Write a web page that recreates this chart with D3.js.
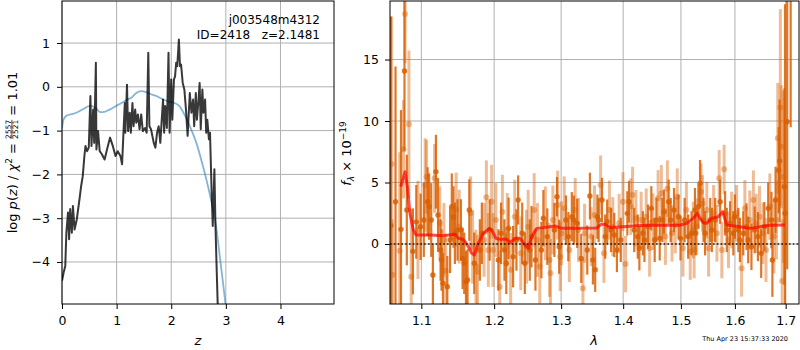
<!DOCTYPE html>
<html>
<head>
<meta charset="utf-8">
<script src="https://cdn.jsdelivr.net/npm/d3@7"></script>
<style>
body { margin: 0; background: #fff; }
text { font-family: "DejaVu Sans", sans-serif; white-space: pre; }
</style>
</head>
<body>
<svg id="fig" width="800" height="350"></svg>
<script>
// ---- left panel: log p(z) (black) and prior-ish curve (blue)
var pzZ = [0,0.03,0.06,0.08,0.11,0.13,0.15,0.18,0.20,0.23,0.27,0.32,0.35,0.38,0.41,0.43,0.46,0.49,0.52,0.54,
  0.57,0.59,0.62,0.63,0.66,0.69,0.73,0.78,0.84,0.88,0.93,0.98,1.02,1.07,1.10,1.12,1.15,1.16,1.19,1.21,
  1.24,1.26,1.29,1.31,1.34,1.36,1.39,1.42,1.45,1.48,1.52,1.55,1.58,1.60,1.63,1.68,1.71,1.74,1.77,1.80,
  1.83,1.85,1.87,1.89,1.92,1.95,1.97,2.00,2.02,2.05,2.07,2.09,2.11,2.14,2.16,2.18,2.21,2.24,2.27,2.30,
  2.34,2.37,2.40,2.42,2.45,2.47,2.50,2.52,2.54,2.57,2.59,2.62,2.64,2.66,2.69,2.71,2.74,2.76,2.79,2.81,
  2.83,2.85,2.87];
var pzLog = [-4.43,-4.24,-4.09,-3.33,-2.87,-3.48,-2.79,-3.33,-2.72,-3.26,-3.03,-2.57,-2.27,-2.04,-1.58,-1.35,-1.47,-1.39,-0.21,-1.35,
  -0.52,-1.28,0.55,-1.43,-1.01,-1.47,-1.54,-1.66,-1.35,-1.16,-1.35,-1.58,-1.47,-1.58,-1.77,-1.20,-0.37,-1.05,0.05,-1.01,
  -0.59,-1.05,-0.37,-0.90,-0.52,-0.82,-0.63,-0.97,-0.63,-1.01,-0.94,-1.05,0.78,-0.90,-0.97,-1.28,-1.39,-1.05,-0.90,-1.28,
  -0.67,-0.29,-1.05,-0.44,-0.94,0.78,-1.05,0.17,-0.75,0.17,0.24,0.55,0.47,1.08,0.47,0.51,0.09,-0.06,-0.52,-1.12,
  -0.14,-0.59,-0.29,-0.90,-0.14,-0.75,-0.29,0.09,-0.97,-0.06,-0.59,-0.29,-1.05,-0.75,-1.20,-1.05,-2.42,-3.18,-1.88,-3.18,
  -4.09,-4.93,-5.6];
var priorZ = [0,0.02,0.05,0.1,0.2,0.3,0.4,0.5,0.55,0.63,0.7,0.78,0.87,1.0,1.09,1.18,1.27,1.36,1.45,1.54,
  1.63,1.73,1.85,1.94,2.06,2.15,2.24,2.34,2.46,2.58,2.70,2.82,2.91,2.99,3.02];
var priorLog = [-0.95,-0.78,-0.7,-0.65,-0.62,-0.57,-0.5,-0.44,-0.44,-0.5,-0.58,-0.57,-0.52,-0.43,-0.37,-0.3,-0.25,-0.14,-0.1,-0.12,
  -0.17,-0.21,-0.29,-0.33,-0.37,-0.44,-0.63,-0.9,-1.28,-1.81,-2.42,-3.18,-4.09,-4.93,-5.3];
var zTicks = [0, 1, 2, 3, 4];
var logTicks = [-4, -3, -2, -1, 0, 1];

// ---- right panel: spectrum points [wave, flux, err]
var darkSpec = [[1.0607,1.5,17],[1.0666,3.44,11],[1.0736,1.19,9.7],[1.0781,14.07,6.5],[1.0811,2.76,4.5],[1.0890,-0.6,3.5],
  [1.0934,1.8,3],[1.0990,1.4,2.7],[1.1033,1.95,3],[1.1083,3.44,2.8],[1.1103,3.04,2.7],[1.1131,1.95,3],[1.1153,-2.52,2.5],
  [1.1194,5.88,3],[1.1222,2.36,3],[1.1256,-0.49,2.5],[1.1269,-1.3,2.5],[1.1288,-3.2,2.5],[1.1347,-3.47,2.5],[1.1385,0.33,2.7],
  [1.1408,3.04,2.7],[1.1431,2.2,2.5],[1.1450,0.87,2.5],[1.1486,1.14,2.5],[1.1533,1.14,2.5],[1.1556,-1.17,2.5],[1.1579,-1.57,2.5],
  [1.1603,-3.06,2.5],[1.1625,-2.93,2.5],[1.1649,2.76,2.5],[1.1718,-1.57,2.5],[1.1797,-0.49,2.5],[1.1825,0.87,2.5],[1.1936,1.14,2.5],
  [1.2060,-1.3,2.5],[1.2100,0.87,2.5],[1.2149,-0.49,2.5],[1.2175,-1.57,2.5],[1.2209,1.27,2.5],[1.2275,-1.03,2.5],[1.2324,0.33,2.5],
  [1.2349,3.58,2],[1.2409,0.87,2.5],[1.2448,-1.57,2.5],[1.2522,-0.49,2.5],[1.2548,0.6,2.5],[1.2607,-1.3,2.5],[1.2697,-0.49,2.3],
  [1.2727,2.09,2.3],[1.2787,0.6,2.3],[1.2896,1.14,2.2],[1.2936,3.85,1.6],[1.2970,-0.22,2.2],[1.3075,1.95,2],[1.3112,0.6,2],
  [1.3167,2.22,2],[1.3199,1.95,2],[1.3252,1.68,2],[1.3316,-1.17,2],[1.3412,-0.49,2],[1.3455,3.9,1.9],[1.3503,-1.3,2],
  [1.3540,-2.1,1.8],[1.3575,2.22,1.8],[1.3596,1.95,1.8],[1.3650,3.58,1.8],[1.3703,0.6,1.8],[1.3735,1.82,1.8],[1.3800,1.14,1.8],
  [1.3852,0.73,1.8],[1.3896,-0.49,1.8],[1.3960,0.33,1.8],[1.4070,2.49,1.8],[1.4098,3.44,1.7],[1.4186,1.14,1.8],[1.4246,0.6,1.8],
  [1.4274,-0.35,1.8],[1.4333,0.87,1.8],[1.4361,0.33,1.8],[1.4421,1.41,1.8],[1.4479,2.9,1.8],[1.4537,0.33,1.8],[1.4567,1.95,1.8],
  [1.4625,0.46,1.8],[1.4672,1.95,1.8],[1.4702,2.63,1.8],[1.4782,3.44,1.8],[1.4818,1.95,1.8],[1.4877,2.76,1.8],[1.4958,2.22,1.8],
  [1.4993,0.46,1.8],[1.5067,1.95,1.8],[1.5131,0.6,1.8],[1.5192,0.87,1.8],[1.5254,2.76,1.8],[1.5267,0.87,1.8],[1.5317,3.04,1.8],
  [1.5347,4.93,1.9],[1.5410,1.95,1.8],[1.5440,0.87,1.8],[1.5534,1.95,1.8],[1.5565,1.14,1.8],[1.5627,1.95,1.8],[1.5720,3.44,1.8],
  [1.5813,2.49,1.8],[1.5845,1.14,1.8],[1.5907,1.68,1.8],[1.5970,0.87,1.8],[1.6000,2.22,1.8],[1.6065,1.14,1.8],[1.6095,0.33,1.8],
  [1.6160,0.87,1.8],[1.6223,1.41,1.9],[1.6256,0.33,1.9],[1.6319,-0.22,1.9],[1.6382,1.14,1.9],[1.6446,0.6,2],[1.6510,-0.76,2],
  [1.6573,1.41,2],[1.6649,2.9,2.1],[1.6714,1.95,2.3],[1.6733,-1.3,3],[1.6796,3.58,2.7],[1.6859,6.0,3.5],[1.6878,6.75,5],
  [1.6974,4.66,8],[1.6987,2.5,17],[1.7031,9.95,12],[1.7102,22,12.5]];
var lightSpec = [[1.0617,6.5,12],[1.0626,-2.5,4.5],[1.0719,-0.54,8],[1.0768,7.7,4],[1.0789,18.7,4],[1.0838,9.73,6],[1.0868,-2.66,5.5],
  [1.0956,1.14,4],[1.1051,4.8,3.8],[1.1069,5.47,3],[1.1176,5.34,2.8],[1.1246,1.68,3],[1.1301,0.33,3],[1.1325,-2.17,3],
  [1.1468,2.8,3],[1.1510,1.41,3],[1.1667,2.49,3],[1.1695,-0.22,3],[1.1742,-1.84,3],[1.1764,-2.25,3],[1.1857,0.33,3],
  [1.1889,3.8,3],[1.1917,-0.49,3],[1.1964,3.44,3],[1.1982,-0.49,3],[1.2025,1.95,3],[1.2081,-3.5,3],[1.2119,2.63,3],
  [1.2190,1.14,3],[1.2239,-2.1,3],[1.2299,2.22,3],[1.2388,-0.76,3],[1.2473,-0.22,3],[1.2498,1.41,3],[1.2588,2.76,3],
  [1.2637,0.33,3],[1.2672,-1.84,3],[1.2757,1.68,3],[1.2821,-1.3,3],[1.2836,-2.38,2.8],[1.2872,1.95,2.8],[1.2946,3.17,2.8],
  [1.2985,-1.03,2.8],[1.3006,0.87,2.6],[1.3048,2.9,2.6],[1.3128,-0.49,2.6],[1.3220,2.76,2.6],[1.3272,1.14,2.6],[1.3343,-3.6,2.4],
  [1.3369,0.87,2.4],[1.3476,0.6,2.4],[1.3529,2.36,2.4],[1.3628,4.8,2.4],[1.3682,-0.76,2.4],[1.3772,2.76,2.4],[1.3827,1.41,2.4],
  [1.3933,1.68,2.4],[1.3997,3.44,2.4],[1.4040,-1.63,2.3],[1.4128,3.04,2.3],[1.4158,3.98,2.3],[1.4216,2.09,2.3],[1.4304,1.95,2.3],
  [1.4391,2.22,2.3],[1.4449,-0.35,2.3],[1.4509,1.82,2.3],[1.4597,3.71,2.3],[1.4654,4.12,2.3],[1.4725,0.6,2.3],[1.4760,4.5,2.3],
  [1.4842,0.87,2.3],[1.4900,1.54,2.3],[1.4935,3.85,2.3],[1.5037,-0.35,2.3],[1.5099,2.76,2.3],[1.5168,-0.62,2.3],[1.5224,1.14,2.3],
  [1.5239,-0.49,2.3],[1.5285,1.41,2.3],[1.5366,4.25,2.3],[1.5392,3.3,2.3],[1.5472,2.76,2.3],[1.5504,-0.35,2.3],[1.5597,2.49,2.3],
  [1.5659,0.87,2.3],[1.5702,5.34,2.3],[1.5752,-0.49,2.3],[1.5795,6.07,2],[1.5877,0.33,2.3],[1.5938,1.95,2.3],[1.6032,2.49,2.3],
  [1.6128,-1.98,2.3],[1.6191,2.9,2.3],[1.6286,1.95,2.4],[1.6357,3.58,2.4],[1.6414,1.68,2.4],[1.6477,2.22,2.5],[1.6542,0.87,2.5],
  [1.6605,-0.49,2.6],[1.6682,3.04,2.7],[1.6764,0.6,3],[1.6815,1.95,3.2],[1.6840,8.6,4.5],[1.6892,11.1,8],[1.6911,7.9,5],
  [1.6930,-3,5],[1.6955,5.47,7]];
// model (red)
var modelWave = [1.0733,1.0788,1.0818,1.0852,1.0895,1.0931,1.1115,1.1293,1.1452,1.1497,1.1558,1.1590,1.1635,1.1683,1.1719,
  1.1775,1.1846,1.1931,1.1965,1.2027,1.2085,1.2182,1.2230,1.2303,1.2377,1.2451,1.2500,1.2551,1.2626,1.2726,1.2828,1.2905,
  1.3009,1.3244,1.3564,1.3645,1.3699,1.3781,1.4002,1.4228,1.4456,1.4687,1.4983,1.5104,1.5223,1.5296,1.5346,1.5406,1.5469,
  1.5562,1.5685,1.5768,1.5843,1.6097,1.6290,1.6485,1.6684,1.6985];
var modelFlux = [4.66,5.88,4.66,2.49,1.14,0.73,0.73,0.68,0.79,0.46,0.38,0.19,-0.22,-0.76,-0.89,
  0.05,0.87,1.27,1.14,0.46,0.38,0.38,0.11,0.46,0.46,-0.08,-0.35,0.6,1.27,1.33,1.41,1.46,
  1.27,1.27,1.3,1.63,1.6,1.35,1.41,1.49,1.52,1.52,1.52,1.68,2.09,2.49,2.09,1.73,1.68,
  2.09,2.22,2.63,1.54,1.41,1.27,1.41,1.52,1.54];
var waveTicks = [1.1, 1.2, 1.3, 1.4, 1.5, 1.6, 1.7];
var fluxTicks = [0, 5, 10, 15];

var svg = d3.select("#fig");
var orange = "#d95f02";

// scales
var xL = d3.scaleLinear().domain([0, 4.98]).range([62, 334]);
var yL = d3.scaleLinear().domain([-4.96, 1.96]).range([304, 1]);
var xR = d3.scaleLog().domain([1.0596, 1.7273]).range([390, 799]);
var yR = d3.scaleLinear().domain([-4.88, 19.76]).range([304, 1]);

var defs = svg.append("defs");
defs.append("clipPath").attr("id", "clipL").append("rect")
  .attr("x", 62).attr("y", 1).attr("width", 272).attr("height", 303);
defs.append("clipPath").attr("id", "clipR").append("rect")
  .attr("x", 390).attr("y", 1).attr("width", 409).attr("height", 303);

function grid(xs, ys, xt, yt) {
  var g = svg.append("g");
  g.selectAll(".gx").data(xt).enter().append("line")
    .attr("x1", d => xs(d)).attr("x2", d => xs(d))
    .attr("y1", ys.range()[0]).attr("y2", ys.range()[1])
    .attr("stroke", "#b0b0b0").attr("stroke-width", 1);
  g.selectAll(".gy").data(yt).enter().append("line")
    .attr("y1", d => ys(d)).attr("y2", d => ys(d))
    .attr("x1", xs.range()[0]).attr("x2", xs.range()[1])
    .attr("stroke", "#b0b0b0").attr("stroke-width", 1);
}
grid(xL, yL, zTicks, logTicks);
grid(xR, yR, waveTicks, fluxTicks);

// left curves
var lp = svg.append("g").attr("clip-path", "url(#clipL)");
lp.append("path")
  .datum(priorZ.map((z, i) => [z, priorLog[i]]))
  .attr("fill", "none").attr("stroke", "#1f77b4").attr("stroke-opacity", 0.55).attr("stroke-width", 1.8)
  .attr("d", d3.line().x(d => xL(d[0])).y(d => yL(d[1])).curve(d3.curveMonotoneX));
lp.append("path")
  .datum(pzZ.map((z, i) => [z, pzLog[i]]))
  .attr("fill", "none").attr("stroke", "#000").attr("stroke-opacity", 0.78).attr("stroke-width", 2)
  .attr("stroke-linejoin", "round")
  .attr("d", d3.line().x(d => xL(d[0])).y(d => yL(d[1])));

// right: error bars + points
var rp = svg.append("g").attr("clip-path", "url(#clipR)");
function drawSpec(data, opac, barW, rad) {
  var g = rp.append("g");
  g.selectAll("line").data(data).enter().append("line")
    .attr("x1", d => xR(d[0])).attr("x2", d => xR(d[0]))
    .attr("y1", d => yR(d[1] - d[2])).attr("y2", d => yR(d[1] + d[2]))
    .attr("stroke", orange).attr("stroke-opacity", opac).attr("stroke-width", barW);
  g.selectAll("circle").data(data).enter().append("circle")
    .attr("cx", d => xR(d[0])).attr("cy", d => yR(d[1])).attr("r", rad)
    .attr("fill", orange).attr("fill-opacity", opac);
}
drawSpec(lightSpec, 0.42, 3, 3);
drawSpec(darkSpec, 0.85, 2.2, 2.7);

rp.append("path")
  .datum(modelWave.map((w, i) => [w, modelFlux[i]]))
  .attr("fill", "none").attr("stroke", "red").attr("stroke-opacity", 0.7).attr("stroke-width", 3)
  .attr("stroke-linejoin", "round")
  .attr("d", d3.line().x(d => xR(d[0])).y(d => yR(d[1])));
rp.append("line")
  .attr("x1", 390).attr("x2", 799).attr("y1", yR(0)).attr("y2", yR(0))
  .attr("stroke", "#000").attr("stroke-opacity", 0.85).attr("stroke-width", 1.6)
  .attr("stroke-dasharray", "1.6,2.2");

// axes
function styleAxis(g) {
  g.select(".domain").remove();
  g.selectAll("line").attr("stroke", "#000");
  g.selectAll("text").attr("font-family", "DejaVu Sans").attr("font-size", 12.5).attr("fill", "#000");
}
svg.append("g").attr("transform", "translate(0,304)")
  .call(d3.axisBottom(xL).tickValues(zTicks).tickSize(5).tickPadding(7).tickFormat(d3.format("d"))).call(styleAxis);
svg.append("g").attr("transform", "translate(62,0)")
  .call(d3.axisLeft(yL).tickValues(logTicks).tickSize(5).tickPadding(7).tickFormat(d3.format("d"))).call(styleAxis);
svg.append("g").attr("transform", "translate(0,304)")
  .call(d3.axisBottom(xR).tickValues(waveTicks).tickSize(5).tickPadding(7).tickFormat(d3.format(".1f"))).call(styleAxis);
svg.append("g").attr("transform", "translate(390,0)")
  .call(d3.axisLeft(yR).tickValues(fluxTicks).tickSize(5).tickPadding(6).tickFormat(d3.format("d"))).call(styleAxis);

// frames
svg.append("rect").attr("x", 62).attr("y", 1).attr("width", 272).attr("height", 303)
  .attr("fill", "none").attr("stroke", "#000").attr("stroke-width", 1);
svg.append("rect").attr("x", 390).attr("y", 1).attr("width", 409).attr("height", 303)
  .attr("fill", "none").attr("stroke", "#000").attr("stroke-width", 1);

// labels
svg.append("text").attr("x", 198).attr("y", 345).attr("text-anchor", "middle")
  .attr("font-size", 13).attr("font-style", "italic").text("z");
svg.append("text").attr("x", 594).attr("y", 345).attr("text-anchor", "middle")
  .attr("font-size", 13).attr("font-style", "italic").text("λ");

svg.append("text").attr("x", 320).attr("y", 24).attr("text-anchor", "end").attr("font-size", 12).text("j003548m4312");
svg.append("text").attr("x", 320).attr("y", 39).attr("text-anchor", "end").attr("font-size", 12).text("ID=2418   z=2.1481");

// left y label with fraction
var ylab = svg.append("g").attr("transform", "translate(16.5,152.5) rotate(-90)");
var inner = ylab.append("g");
var t1 = inner.append("text").attr("font-size", 13);
t1.append("tspan").text("log ");
t1.append("tspan").attr("font-style", "italic").text("p");
t1.append("tspan").text("(");
t1.append("tspan").attr("font-style", "italic").text("z");
t1.append("tspan").text(") / ");
t1.append("tspan").attr("font-style", "italic").text("χ");
t1.append("tspan").attr("font-size", 9).attr("dy", -5).text("2");
t1.append("tspan").attr("dy", 5).text(" = ");
var w1 = t1.node().getComputedTextLength();
var num = inner.append("text").attr("x", w1).attr("y", -6).attr("font-size", 7.5).text("2557");
var den = inner.append("text").attr("x", w1).attr("y", 1.5).attr("font-size", 7.5).text("2521");
var wf = Math.max(num.node().getComputedTextLength(), den.node().getComputedTextLength());
inner.append("line").attr("x1", w1).attr("x2", w1 + wf).attr("y1", -4.6).attr("y2", -4.6)
  .attr("stroke", "#000").attr("stroke-width", 0.7);
var t3 = inner.append("text").attr("x", w1 + wf).attr("font-size", 13).text(" = 1.01");
var total = w1 + wf + t3.node().getComputedTextLength();
inner.attr("transform", "translate(" + (-total / 2) + ",0)");

// right y label
var rlab = svg.append("text").attr("transform", "translate(351,153.5) rotate(-90)")
  .attr("text-anchor", "middle").attr("font-size", 13);
rlab.append("tspan").attr("font-style", "italic").text("f");
rlab.append("tspan").attr("font-size", 9).attr("font-style", "italic").attr("dy", 3).text("λ");
rlab.append("tspan").attr("dy", -3).text(" × 10");
rlab.append("tspan").attr("font-size", 9).attr("dy", -5).text("−19");

// timestamp
svg.append("text").attr("x", 788).attr("y", 341).attr("text-anchor", "end")
  .attr("font-size", 6.5).text("Thu Apr 23 15:37:33 2020");
</script>
</body>
</html>
